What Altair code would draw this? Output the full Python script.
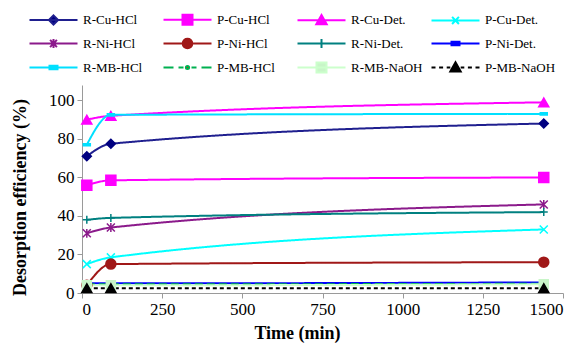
import altair as alt
import pandas as pd

# ---------------- data ----------------
time_min = [15, 90, 1440]
series_names = ["R-Cu-HCl", "P-Cu-HCl", "R-Cu-Det.", "P-Cu-Det.",
                "R-Ni-HCl", "P-Ni-HCl", "R-Ni-Det.", "P-Ni-Det.",
                "R-MB-HCl", "P-MB-HCl", "R-MB-NaOH", "P-MB-NaOH"]
r_cu_hcl = [71, 77.5, 88]
p_cu_hcl = [56, 58.5, 60]
r_cu_det = [90, 92, 99]
p_cu_det = [15, 18.5, 33]
r_ni_hcl = [31, 34, 46]
p_ni_hcl = [4, 15, 16]
r_ni_det = [38, 39, 42]
p_ni_det = [5, 5, 5.5]
r_mb_hcl = [77, 92.5, 93]
p_mb_hcl = [4.5, 4.5, 4.8]
r_mb_naoh = [4, 4, 4.5]
p_mb_naoh = [2.5, 2.5, 2.5]
series_values = [r_cu_hcl, p_cu_hcl, r_cu_det, p_cu_det, r_ni_hcl, p_ni_hcl,
                 r_ni_det, p_ni_det, r_mb_hcl, p_mb_hcl, r_mb_naoh, p_mb_naoh]
x_ticks = [0, 250, 500, 750, 1000, 1250, 1500]
y_ticks = [0, 20, 40, 60, 80, 100]

rows = []
for name, vals in zip(series_names, series_values):
    for t, v in zip(time_min, vals):
        rows.append({"series": name, "time": t, "value": v})
df = pd.DataFrame(rows)

# ---------------- styles ----------------
line_color = {
    "R-Cu-HCl": "#1f1f8f", "P-Cu-HCl": "#ff00ff", "R-Cu-Det.": "#ff00ff",
    "P-Cu-Det.": "#00ffff", "R-Ni-HCl": "#8b1a8b", "P-Ni-HCl": "#a01818",
    "R-Ni-Det.": "#008080", "P-Ni-Det.": "#0000ff", "R-MB-HCl": "#00e0ff",
    "P-MB-HCl": "#00b050", "R-MB-NaOH": "#ccffcc", "P-MB-NaOH": "#000000",
}
marker_fill = dict(line_color)
marker_fill["R-Cu-HCl"] = "#000080"
marker_fill["P-MB-HCl"] = "#ff0000"
marker_fill["R-MB-NaOH"] = "#c8f5c8"
dash = {n: [1, 0] for n in series_names}
dash["P-MB-HCl"] = [8, 4]
dash["P-MB-NaOH"] = [4, 3]

X_P = "M-1,-1L1,1M-1,1L1,-1"
marker_shape = {
    "R-Cu-HCl": ("diamond", 81), "P-Cu-HCl": ("square", 100),
    "R-Cu-Det.": ("triangle-up", 100), "P-Cu-Det.": (X_P, 64),
    "R-Ni-HCl": (X_P + "M0,-1.1L0,1.1", 64), "P-Ni-HCl": ("circle", 100),
    "R-Ni-Det.": ("M-1,0L1,0M0,-1L0,1", 64),
    "P-Ni-Det.": ("M-1,-0.3L1,-0.3L1,0.3L-1,0.3Z", 49),
    "R-MB-HCl": ("M-1,-0.3L1,-0.3L1,0.3L-1,0.3Z", 49),
    "P-MB-HCl": ("circle", 12), "R-MB-NaOH": ("square", 81),
    "P-MB-NaOH": ("triangle-up", 100),
}

# legend symbols: line + marker drawn as one custom path (unit = 2px)
solid = "M-1,0L23,0"
m_diamond = "M11,-2.3L13.3,0L11,2.3L8.7,0Z"
m_square = "M8.5,-2.5L13.5,-2.5L13.5,2.5L8.5,2.5Z"
m_tri = "M11,-2.6L13.6,2L8.4,2Z"
m_x = "M9.3,-1.8L12.7,1.8M9.3,1.8L12.7,-1.8"
m_ast = m_x + "M11,-2.2L11,2.2"
m_circle = "M8.6,0C8.6,-3.2 13.4,-3.2 13.4,0C13.4,3.2 8.6,3.2 8.6,0Z"
m_plus = "M11,-2.2L11,2.2"
m_dash = "M9,-0.9L13,-0.9L13,0.9L9,0.9Z"
m_dot = "M10.2,0C10.2,-1 11.8,-1 11.8,0C11.8,1 10.2,1 10.2,0Z"
green_dash = "M-1,0L4,0M6.5,0L9,0M13,0L15.5,0M18,0L23,0"
black_dash = "M-1,0L1,0M2.8,0L4.8,0M6.6,0L8.4,0M13.6,0L15.4,0M17.2,0L19.2,0M21,0L23,0"
legend_paths = [solid + m_diamond, solid + m_square, solid + m_tri, solid + m_x,
                solid + m_ast, solid + m_circle, solid + m_plus, solid + m_dash,
                solid + m_dash, green_dash + m_dot, solid + m_square, black_dash + m_tri]

FONT = "Liberation Serif"

x_enc = alt.X("time:Q", scale=alt.Scale(domain=[0, 1500], nice=False),
              axis=alt.Axis(values=x_ticks, title="Time (min)", titleX=215, titleY=40,
                            titleBaseline="middle", titleAlign="center", format="d"))
y_enc = alt.Y("value:Q", scale=alt.Scale(domain=[0, 108], nice=False),
              axis=alt.Axis(values=y_ticks, title="Desorption efficiency (%)",
                            titleX=-62, titleY=112, titleAngle=270, format="d",
                            titleBaseline="middle", titleAlign="center"))

base = alt.Chart(df)

line_layers = []
point_layers = []
for n in series_names:
    shp, sz = marker_shape[n]
    line_layers.append(
        base.mark_line(interpolate="monotone", strokeWidth=2, stroke=line_color[n],
                       strokeDash=dash[n])
        .encode(x=x_enc, y=y_enc)
        .transform_filter(alt.datum.series == n)
    )
    point_layers.append(
        base.mark_point(shape=shp, size=sz, filled=True, opacity=1,
                        fill=marker_fill[n], stroke=marker_fill[n], strokeWidth=1.5)
        .encode(x=x_enc, y=y_enc)
        .transform_filter(alt.datum.series == n)
    )

leg = dict(title=None, orient="none", legendX=-57, legendY=-72, columns=4,
           direction="horizontal", gridAlign="all", columnPadding=4, rowPadding=5,
           labelOffset=45, padding=0, labelFont=FONT, labelFontSize=13,
           labelColor="#000", symbolStrokeWidth=2, symbolSize=16)

legend_layer = base.mark_point(size=16, filled=True, opacity=1, strokeWidth=2).encode(
    x=x_enc, y=y_enc,
    shape=alt.Shape("series:N", scale=alt.Scale(domain=series_names, range=legend_paths),
                    legend=alt.Legend(**leg)),
    fill=alt.Fill("series:N", scale=alt.Scale(domain=series_names,
                  range=[marker_fill[n] for n in series_names]), legend=alt.Legend(**leg)),
    stroke=alt.Stroke("series:N", scale=alt.Scale(domain=series_names,
                  range=[line_color[n] for n in series_names]), legend=alt.Legend(**leg)),
).transform_filter("false")

chart = alt.layer(*line_layers, *point_layers, legend_layer).properties(
    width=481, height=208,
    autosize=alt.AutoSizeParams(type="none"),
    padding={"left": 74, "top": 77, "right": 11, "bottom": 50},
).configure_view(stroke=None).configure_axis(
    grid=False, domainColor="#9a9a9a", tickColor="#9a9a9a", tickSize=5,
    labelFont=FONT, labelFontSize=17, labelColor="#000", labelPadding=3,
    titleFont=FONT, titleFontSize=18, titleFontWeight="bold", titleColor="#000",
)

chart.save("out.html", embed_options={"renderer": "svg", "actions": False})
